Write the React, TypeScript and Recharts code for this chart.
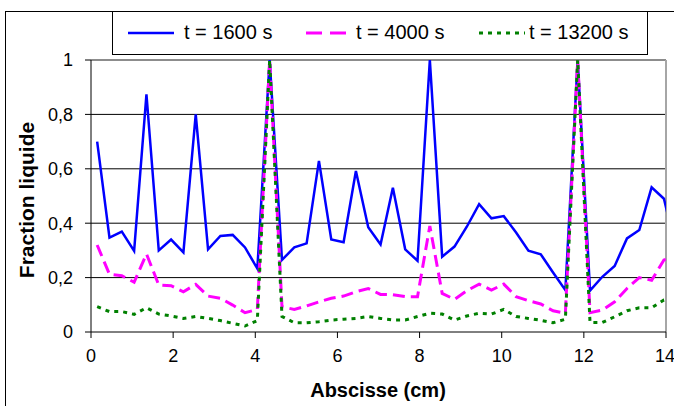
import { LineChart, Line, XAxis, YAxis, ReferenceLine } from 'recharts'

// abscisse des mailles (cm)
const abscisse = [
  0.15, 0.45, 0.75, 1.05, 1.35, 1.65, 1.95, 2.25, 2.55, 2.85, 3.15, 3.45, 3.75, 4.05,
  4.35, 4.65, 4.95, 5.25, 5.55, 5.85, 6.15, 6.45, 6.75, 7.05, 7.35, 7.65, 7.95, 8.25,
  8.55, 8.85, 9.15, 9.45, 9.75, 10.05, 10.35, 10.65, 10.95, 11.25, 11.55, 11.85, 12.15,
  12.45, 12.75, 13.05, 13.35, 13.65, 13.95, 14.25,
]

const t1600 = [
  0.7, 0.347, 0.369, 0.298, 0.874, 0.3, 0.34, 0.293, 0.8, 0.304, 0.353, 0.357, 0.311, 0.233,
  1.0, 0.265, 0.311, 0.326, 0.629, 0.34, 0.33, 0.592, 0.385, 0.322, 0.53, 0.304, 0.262, 1.0,
  0.277, 0.314, 0.387, 0.47, 0.418, 0.426, 0.366, 0.299, 0.286, 0.219, 0.154, 1.0, 0.152,
  0.203, 0.243, 0.344, 0.375, 0.532, 0.49, 0.3,
]

const t4000 = [
  0.32, 0.212, 0.207, 0.183, 0.287, 0.173, 0.17, 0.148, 0.175, 0.132, 0.124, 0.099, 0.071, 0.083,
  1.0, 0.093, 0.083, 0.096, 0.111, 0.124, 0.132, 0.148, 0.16, 0.138, 0.137, 0.13, 0.13, 0.39,
  0.142, 0.12, 0.152, 0.176, 0.154, 0.176, 0.13, 0.115, 0.103, 0.078, 0.069, 1.0, 0.071,
  0.081, 0.111, 0.16, 0.2, 0.19, 0.265, 0.28,
]

const t13200 = [
  0.093, 0.075, 0.075, 0.065, 0.089, 0.066, 0.059, 0.05, 0.057, 0.05, 0.042, 0.032, 0.022, 0.042,
  1.0, 0.057, 0.034, 0.034, 0.038, 0.044, 0.047, 0.05, 0.057, 0.05, 0.044, 0.044, 0.057, 0.069,
  0.066, 0.044, 0.059, 0.069, 0.066, 0.083, 0.057, 0.05, 0.043, 0.034, 0.047, 1.0, 0.035,
  0.035, 0.056, 0.078, 0.089, 0.089, 0.118, 0.125,
]

const xTicks = [0, 2, 4, 6, 8, 10, 12, 14]
const yTicks = [0, 0.2, 0.4, 0.6, 0.8, 1]
const gridValues = [0.2, 0.4, 0.6, 0.8]

const legendItems = [
  { label: 't = 1600 s', color: '#0000ff', dash: undefined, width: 2.5, left: 128, textLeft: 184 },
  { label: 't = 4000 s', color: '#ff00ff', dash: '16 8', width: 3, left: 306, textLeft: 356 },
  { label: 't = 13200 s', color: '#008000', dash: '4 5', width: 3, left: 479, textLeft: 529 },
]

const data = abscisse.map((x, i) => ({ x, a: t1600[i], b: t4000[i], c: t13200[i] }))

const FONT = '"Liberation Sans", Arial, sans-serif'

const fmt = (v: number) => (v === 0 ? '0' : v === 1 ? '1' : v.toFixed(1).replace('.', ','))

export default function App() {
  return (
    <div
      style={{
        position: 'absolute',
        left: 0,
        top: 0,
        width: 674,
        height: 406,
        overflow: 'hidden',
        background: '#fff',
        fontFamily: FONT,
      }}
    >
      <div
        style={{
          position: 'absolute',
          left: 5,
          top: 11,
          width: 720,
          height: 440,
          border: '1px solid #000',
        }}
      />
      <LineChart
        width={674}
        height={406}
        data={data}
        margin={{ top: 60, right: 8, bottom: 34, left: 31 }}
        style={{ position: 'absolute', left: 0, top: 0 }}
      >
        {gridValues.map((v) => (
          <ReferenceLine key={v} y={v} stroke="#000" strokeWidth={1} />
        ))}
        <ReferenceLine y={1} stroke="#8c8c8c" strokeWidth={2} />
        <ReferenceLine x={14} stroke="#a6a6a6" strokeWidth={2} />
        <XAxis
          dataKey="x"
          type="number"
          domain={[0, 14]}
          ticks={xTicks}
          allowDataOverflow
          height={40}
          stroke="#000"
          tickSize={6}
          tickMargin={11}
          tick={{ fontSize: 18, fill: '#000', fontFamily: FONT }}
        />
        <YAxis
          type="number"
          domain={[0, 1]}
          ticks={yTicks}
          allowDataOverflow
          width={60}
          stroke="#000"
          tickSize={6}
          tickMargin={12}
          tickFormatter={fmt}
          tick={{ fontSize: 18, fill: '#000', fontFamily: FONT }}
        />
        <Line
          type="linear"
          dataKey="a"
          stroke="#0000ff"
          strokeWidth={2.5}
          dot={false}
          activeDot={false}
          isAnimationActive={false}
        />
        <Line
          type="linear"
          dataKey="b"
          stroke="#ff00ff"
          strokeWidth={3}
          strokeDasharray="12 6"
          dot={false}
          activeDot={false}
          isAnimationActive={false}
        />
        <Line
          type="linear"
          dataKey="c"
          stroke="#008000"
          strokeWidth={3}
          strokeDasharray="4 5"
          dot={false}
          activeDot={false}
          isAnimationActive={false}
        />
      </LineChart>

      {/* légende */}
      <div
        style={{
          position: 'absolute',
          left: 112,
          top: 11,
          width: 534,
          height: 42,
          border: '1px solid #000',
          background: '#fff',
        }}
      />
      {legendItems.map((item) => (
        <div key={item.label}>
          <svg style={{ position: 'absolute', left: item.left, top: 28 }} width={46} height={10}>
            <line
              x1={0}
              y1={5}
              x2={46}
              y2={5}
              stroke={item.color}
              strokeWidth={item.width}
              strokeDasharray={item.dash}
            />
          </svg>
          <div
            style={{
              position: 'absolute',
              left: item.textLeft,
              top: 20,
              fontSize: 20,
              lineHeight: '24px',
              color: '#000',
              whiteSpace: 'nowrap',
            }}
          >
            {item.label}
          </div>
        </div>
      ))}

      <div
        style={{
          position: 'absolute',
          left: 378,
          top: 390,
          transform: 'translate(-50%, -50%)',
          fontSize: 20,
          fontWeight: 'bold',
          whiteSpace: 'nowrap',
        }}
      >
        Abscisse (cm)
      </div>
      <div
        style={{
          position: 'absolute',
          left: 27,
          top: 200,
          transform: 'translate(-50%, -50%) rotate(-90deg)',
          fontSize: 21,
          fontWeight: 'bold',
          whiteSpace: 'nowrap',
        }}
      >
        Fraction liquide
      </div>
    </div>
  )
}
